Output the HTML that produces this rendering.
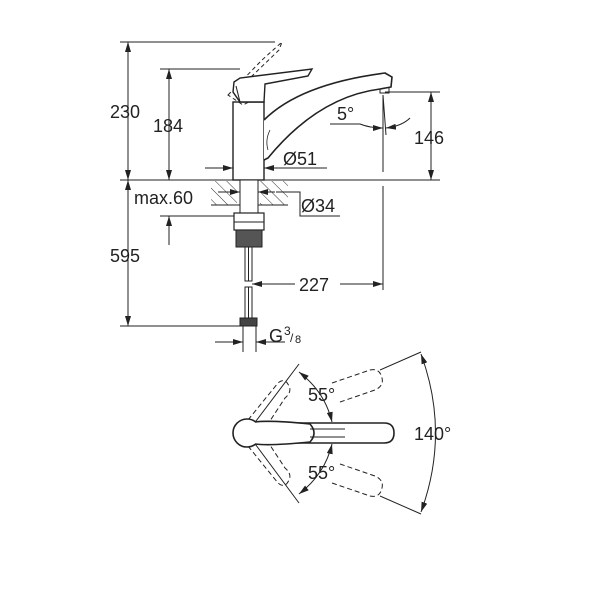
<!DOCTYPE html>
<html><head><style>
html,body{margin:0;padding:0;background:#fff;}
svg{display:block;}
text{font-family:"Liberation Sans",sans-serif;fill:#222;}
</style></head><body>
<svg width="600" height="600" viewBox="0 0 600 600" xmlns="http://www.w3.org/2000/svg">
<defs>
<marker id="a" viewBox="0 0 10 6" refX="10" refY="3" markerWidth="10" markerHeight="6" orient="auto-start-reverse" markerUnits="userSpaceOnUse"><path d="M0,0 L10,3 L0,6z" fill="#222"/></marker>
<pattern id="h" width="8" height="8" patternUnits="userSpaceOnUse" patternTransform="rotate(-45)"><line x1="0" y1="0" x2="0" y2="8" stroke="#333" stroke-width="1"/></pattern>
</defs>
<g stroke="#222" stroke-width="1" fill="none">
<line x1="120" y1="42" x2="275" y2="42"/>
<line x1="160" y1="69" x2="240" y2="69"/>
<line x1="120" y1="180" x2="440" y2="180"/>
<line x1="385" y1="92" x2="440" y2="92"/>
<line x1="120" y1="326" x2="245" y2="326"/>
<line x1="160" y1="216" x2="236" y2="216"/>
<line x1="128" y1="42" x2="128" y2="180" marker-start="url(#a)" marker-end="url(#a)"/>
<line x1="128" y1="180" x2="128" y2="326" marker-start="url(#a)" marker-end="url(#a)"/>
<line x1="169" y1="69" x2="169" y2="180" marker-start="url(#a)" marker-end="url(#a)"/>
<line x1="169" y1="216" x2="169" y2="245" marker-start="url(#a)"/>
<line x1="431" y1="92" x2="431" y2="180" marker-start="url(#a)" marker-end="url(#a)"/>
<rect x="233" y="102" width="31" height="78" fill="#fff" stroke-width="1.4"/>
<path d="M228,95 L262,60 L282,42 L279,50 L250,78 L262,95 L243,105 Z" stroke-dasharray="4,3"/>
<path d="M234,82 L240,78 L312,69 L308,76 L265,84 L264,102 L240,102 L233,92 Z" fill="#fff" stroke-width="1.4"/>
<path d="M240,102 L236,86" stroke-width="1"/>
<path d="M264,120 Q300,84 385,73 L392,77 L391,87 L380,89 Q318,97 268,158 L264,160" fill="#fff" stroke-width="1.6"/>
<path d="M268,150 Q265,140 270,130" stroke-width="0.8"/>
<path d="M380,89 L380,93 L389,93 L389,88" stroke-width="1"/>
<line x1="383" y1="95" x2="383" y2="172"/>
<line x1="383" y1="95" x2="386" y2="135"/>
<path d="M330,124 L360,124 Q370,128 383,128" marker-end="url(#a)"/>
<path d="M410,118 Q402,126 386,128" marker-end="url(#a)"/>
<line x1="205" y1="168" x2="233" y2="168" marker-end="url(#a)"/>
<line x1="327" y1="168" x2="264" y2="168" marker-end="url(#a)"/>
<rect x="211" y="181" width="26" height="24" fill="url(#h)" stroke="none"/>
<rect x="260" y="181" width="28" height="24" fill="url(#h)" stroke="none"/>
<line x1="211" y1="205" x2="288" y2="205"/>
<rect x="240" y="180" width="18" height="35" fill="#fff"/>
<line x1="218" y1="192" x2="240" y2="192" marker-end="url(#a)"/>
<line x1="275" y1="192" x2="258" y2="192" marker-end="url(#a)"/>
<path d="M276,192 L300,192 L300,216 L340,216"/>
<rect x="234" y="213" width="30" height="17" fill="#fff" stroke-width="1.2"/>
<line x1="234" y1="222" x2="264" y2="222"/>
<rect x="236" y="230" width="26" height="17" fill="#555"/>
<rect x="245" y="247" width="7" height="34" fill="#fff"/>
<line x1="248.5" y1="247" x2="248.5" y2="281"/>
<rect x="245" y="287" width="7" height="32" fill="#fff"/>
<line x1="248.5" y1="287" x2="248.5" y2="319"/>
<rect x="240" y="318" width="17" height="8" fill="#444"/>
<line x1="383" y1="186" x2="383" y2="290"/>
<line x1="252" y1="284" x2="295" y2="284" marker-start="url(#a)"/>
<line x1="340" y1="284" x2="383" y2="284" marker-end="url(#a)"/>
<line x1="243" y1="326" x2="243" y2="352"/>
<line x1="256" y1="326" x2="256" y2="352"/>
<line x1="215" y1="342" x2="243" y2="342" marker-end="url(#a)"/>
<line x1="285" y1="342" x2="256" y2="342" marker-end="url(#a)"/>

<line x1="247" y1="433" x2="299" y2="364"/>
<line x1="247" y1="433" x2="299" y2="503"/>
<line x1="380" y1="370" x2="421" y2="352"/>
<line x1="380" y1="496" x2="421" y2="514"/>
<path d="M299,372 Q325,392 332,422" marker-start="url(#a)" marker-end="url(#a)"/>
<path d="M299,494 Q325,474 332,444" marker-start="url(#a)" marker-end="url(#a)"/>
<path d="M421,354 Q450,433 421,512" marker-start="url(#a)" marker-end="url(#a)"/>
<g stroke-dasharray="5,3">
<path d="M248,420 L278,383 Q285,377 289,386 Q292,392 285,398 L264,430"/>
<path d="M248,446 L278,483 Q285,489 289,480 Q292,474 285,468 L264,436"/>
<path d="M332,383 L370,370 Q380,368 382,378 Q384,386 375,390 L340,402"/>
<path d="M332,483 L370,496 Q380,498 382,488 Q384,480 375,476 L340,464"/>
</g>
<path d="M262,423 L384,423 Q394,423 394,433 Q394,443 384,443 L262,443" fill="#fff" stroke-width="1.6"/>
<circle cx="247" cy="433" r="14" fill="#fff" stroke-width="1.6"/>
<path d="M255,422 Q270,420 310,424 Q318,433 310,442 Q270,446 255,444" fill="#fff" stroke-width="1.6"/>
<line x1="310" y1="429" x2="345" y2="429"/>
<line x1="310" y1="437" x2="345" y2="437"/>
</g>
<g font-size="18">
<text x="110" y="118">230</text>
<text x="153" y="132">184</text>
<text x="414" y="144">146</text>
<text x="283" y="165">Ø51</text>
<text x="134" y="204">max.60</text>
<text x="301" y="212">Ø34</text>
<text x="110" y="262">595</text>
<text x="299" y="291">227</text>
<text x="269" y="342">G</text>
<text x="284" y="335" font-size="12">3</text>
<text x="290" y="342" font-size="12">/</text>
<text x="295" y="343" font-size="11">8</text>
<text x="337" y="120">5°</text>
<text x="308" y="401">55°</text>
<text x="308" y="479">55°</text>
<text x="414" y="440">140°</text>
</g>
</svg>
</body></html>
